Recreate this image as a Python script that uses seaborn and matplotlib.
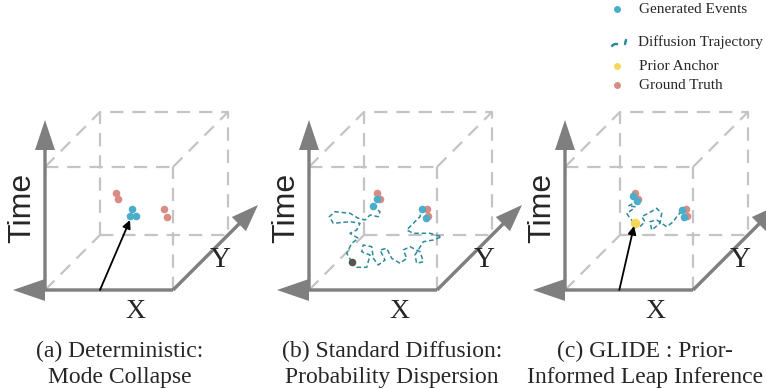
import numpy as np
import pandas as pd
import matplotlib.pyplot as plt
import seaborn as sns

# ---- data (panel-local coords: x right, y up, origin = front-bottom-left cube corner)
captions = [("(a) Deterministic:", "Mode Collapse"),
            ("(b) Standard Diffusion:", "Probability Dispersion"),
            ("(c) GLIDE : Prior-", "Informed Leap Inference")]

# (a) deterministic
a_truth_x = [71, 73.3, 119.3, 121.7]
a_truth_y = [97.3, 90.7, 80.7, 73.3]
a_gen_x = [87.3, 85, 91]
a_gen_y = [81, 74, 74.3]
a_arrow = [(55, 0), (85, 70)]

# (b) standard diffusion
b_truth_x = [68.3, 71, 117.7, 119.3]
b_truth_y = [97.3, 90.7, 80.7, 74]
b_gen_x = [64.3, 67.7, 112.7, 117]
b_gen_y = [84, 90.7, 80.7, 72.3]
b_start = (42.7, 28.3)
b_traj1_x = [42.7, 37.7, 42.7, 49.3, 41, 47.7, 51, 41, 24.3, 20.3, 26, 41, 49.3, 56,
             61, 69.3, 71, 66, 64.3]
b_traj1_y = [28.3, 36.7, 46.7, 51.7, 56.7, 60, 66.7, 68.3, 66.7, 73.3, 78.3, 76.7, 71.7,
             70, 75, 73.3, 78.3, 81.7, 84]
b_traj2_x = [42.7, 47.7, 57.7, 61, 52.7, 54.3, 62.7, 64.3, 69.3, 76, 71, 77.7, 82.7, 91,
             97.7, 94.3, 101, 111, 114.3, 107.7, 106, 114.3, 124.3, 132.7, 121, 104.3,
             97.7, 104.3, 111, 112.7]
b_traj2_y = [28.3, 22.7, 22.7, 35, 38.3, 45, 43.3, 31.7, 25, 30, 40, 41.7, 31.7, 26.7,
             31.7, 40, 43.3, 38.3, 28.3, 26.7, 35, 48.3, 50, 53.3, 56.7, 56.7, 60, 66.7,
             73.3, 80]

# (c) GLIDE
c_truth_x = [70, 73.3, 121, 122]
c_truth_y = [97.3, 90.7, 81, 74]
c_gen_x = [68.3, 72.3, 117, 119]
c_gen_y = [94, 89.3, 80, 73.3]
c_anchor = (69.5, 67)
c_arrow = [(54.3, 0), (69, 64)]
c_traj1_x = [69, 65, 61.7, 66.7, 70, 63.3, 70, 72.3]
c_traj1_y = [67.3, 71.7, 76.7, 80, 83.3, 84, 87.3, 89.3]
c_traj2_x = [69, 75, 80, 76.7, 83.3, 91.7, 96.7, 95, 86.7, 85, 91.7, 101.7, 108.3, 111.7, 116.7]
c_traj2_y = [67.3, 63.3, 68.3, 73.3, 76.7, 81.7, 76.7, 66.7, 60, 68.3, 70, 63.3, 68.3, 73.3, 79.3]

# ---- style
BLUE = "#4AADC9"
RED = "#D98C86"
YELLOW = "#F7D65C"
TEAL = "#2D8A9C"
AXIS = "#7F7F7F"
CUBE = "#C4C4C4"
SERIF = ["Liberation Serif", "DejaVu Serif"]
SANS = ["Liberation Sans", "DejaVu Sans"]

panel_x = [45, 309, 565]
base_y = 99  # 389 - 290
W, H, D = 128, 123, 55

sns.set_style("white")
fig = plt.figure(figsize=(7.66, 3.89), dpi=100)
ax = fig.add_axes([0, 0, 1, 1])
ax.set_xlim(0, 766)
ax.set_ylim(0, 389)
ax.axis("off")


def P(ox, x, y):
    return np.asarray(x, float) + ox, np.asarray(y, float) + base_y


def cube(ox):
    segs = [[(0, H), (W, H)], [(W, 0), (W, H)],
            [(D, D), (W + D, D), (W + D, H + D), (D, H + D), (D, D)],
            [(0, H), (D, H + D)], [(W, H), (W + D, H + D)], [(0, 0), (D, D)]]
    for s in segs:
        xs, ys = zip(*s)
        px, py = P(ox, xs, ys)
        ax.plot(px, py, color=CUBE, lw=1.6, ls=(0, (6, 4)), zorder=1)
    # axes arrows
    ax.arrow(ox, base_y, 0, 170, width=3.4, head_width=20, head_length=30,
             length_includes_head=True, color=AXIS, lw=0, zorder=3)
    ax.arrow(ox + W, base_y, -W - 32, 0, width=3.4, head_width=22, head_length=32,
             length_includes_head=True, color=AXIS, lw=0, zorder=3)
    ax.arrow(ox + W, base_y, 85, 85, width=3.4, head_width=20, head_length=27,
             length_includes_head=True, color=AXIS, lw=0, zorder=3)
    ax.text(ox - 23, base_y + 82, "Time", rotation=90, ha="center", va="center",
            fontsize=23, family=SANS)
    ax.text(ox + 175, base_y + 30, "Y", ha="center", va="center", fontsize=21, family=SERIF)
    ax.text(ox + 90, base_y - 22, "X", ha="center", va="center", fontsize=20, family=SERIF)


def traj(ox, xs, ys):
    px, py = P(ox, xs, ys)
    sns.lineplot(x=px, y=py, sort=False, estimator=None, ax=ax, color=TEAL,
                 lw=1.1, ls=(0, (3, 1.8)), zorder=4)


def dots(ox, xs, ys, color, z=5):
    px, py = P(ox, xs, ys)
    sns.scatterplot(x=px, y=py, ax=ax, color=color, s=30, linewidth=0, zorder=z)


def black_arrow(ox, seg):
    (x0, y0), (x1, y1) = seg
    ax.annotate("", xy=(ox + x1, base_y + y1), xytext=(ox + x0, base_y + y0),
                arrowprops=dict(arrowstyle="-|>", color="black", lw=1.3,
                                mutation_scale=12, shrinkA=0, shrinkB=0), zorder=6)


for ox in panel_x:
    cube(ox)

# (a)
ox = panel_x[0]
dots(ox, a_truth_x, a_truth_y, RED)
dots(ox, a_gen_x, a_gen_y, BLUE, 6)
black_arrow(ox, a_arrow)

# (b)
ox = panel_x[1]
traj(ox, b_traj1_x, b_traj1_y)
traj(ox, b_traj2_x, b_traj2_y)
dots(ox, b_truth_x, b_truth_y, RED)
dots(ox, b_gen_x, b_gen_y, BLUE, 6)
dots(ox, [b_start[0]], [b_start[1]], "#555555", 6)

# (c)
ox = panel_x[2]
traj(ox, c_traj1_x, c_traj1_y)
traj(ox, c_traj2_x, c_traj2_y)
dots(ox, c_truth_x, c_truth_y, RED)
dots(ox, c_gen_x, c_gen_y, BLUE, 6)
px, py = P(ox, [c_anchor[0]], [c_anchor[1]])
sns.scatterplot(x=px, y=py, ax=ax, color=YELLOW, s=48, linewidth=0, zorder=5)
black_arrow(ox, c_arrow)

# captions
for (l1, l2), cx in zip(captions, [120, 392, 645]):
    ax.text(cx, 389 - 351, l1, ha="center", va="center", fontsize=17, family=SERIF)
    ax.text(cx, 389 - 378, l2, ha="center", va="center", fontsize=17, family=SERIF)

# legend
leg_items = [("Generated Events", 380, BLUE), ("Prior Anchor", 323, YELLOW),
             ("Ground Truth", 304, RED)]
for lab, y, c in leg_items:
    sns.scatterplot(x=[617], y=[y], ax=ax, color=c, s=25, linewidth=0, zorder=5)
    ax.text(639, y, lab, ha="left", va="center", fontsize=11, family=SERIF)
t = np.linspace(0.15, 0.95, 12) * np.pi
sns.lineplot(x=617 - 5 * np.cos(t) - 1, y=341 + 5 * np.sin(t) - 1, sort=False,
             estimator=None, ax=ax, color=TEAL, lw=1.8, ls=(0, (3, 2)))
ax.plot([625, 626], [345, 349], color=TEAL, lw=1.8)
ax.text(638, 347, "Diffusion Trajectory", ha="left", va="center", fontsize=11, family=SERIF)

fig.savefig("out.png", dpi=100)
